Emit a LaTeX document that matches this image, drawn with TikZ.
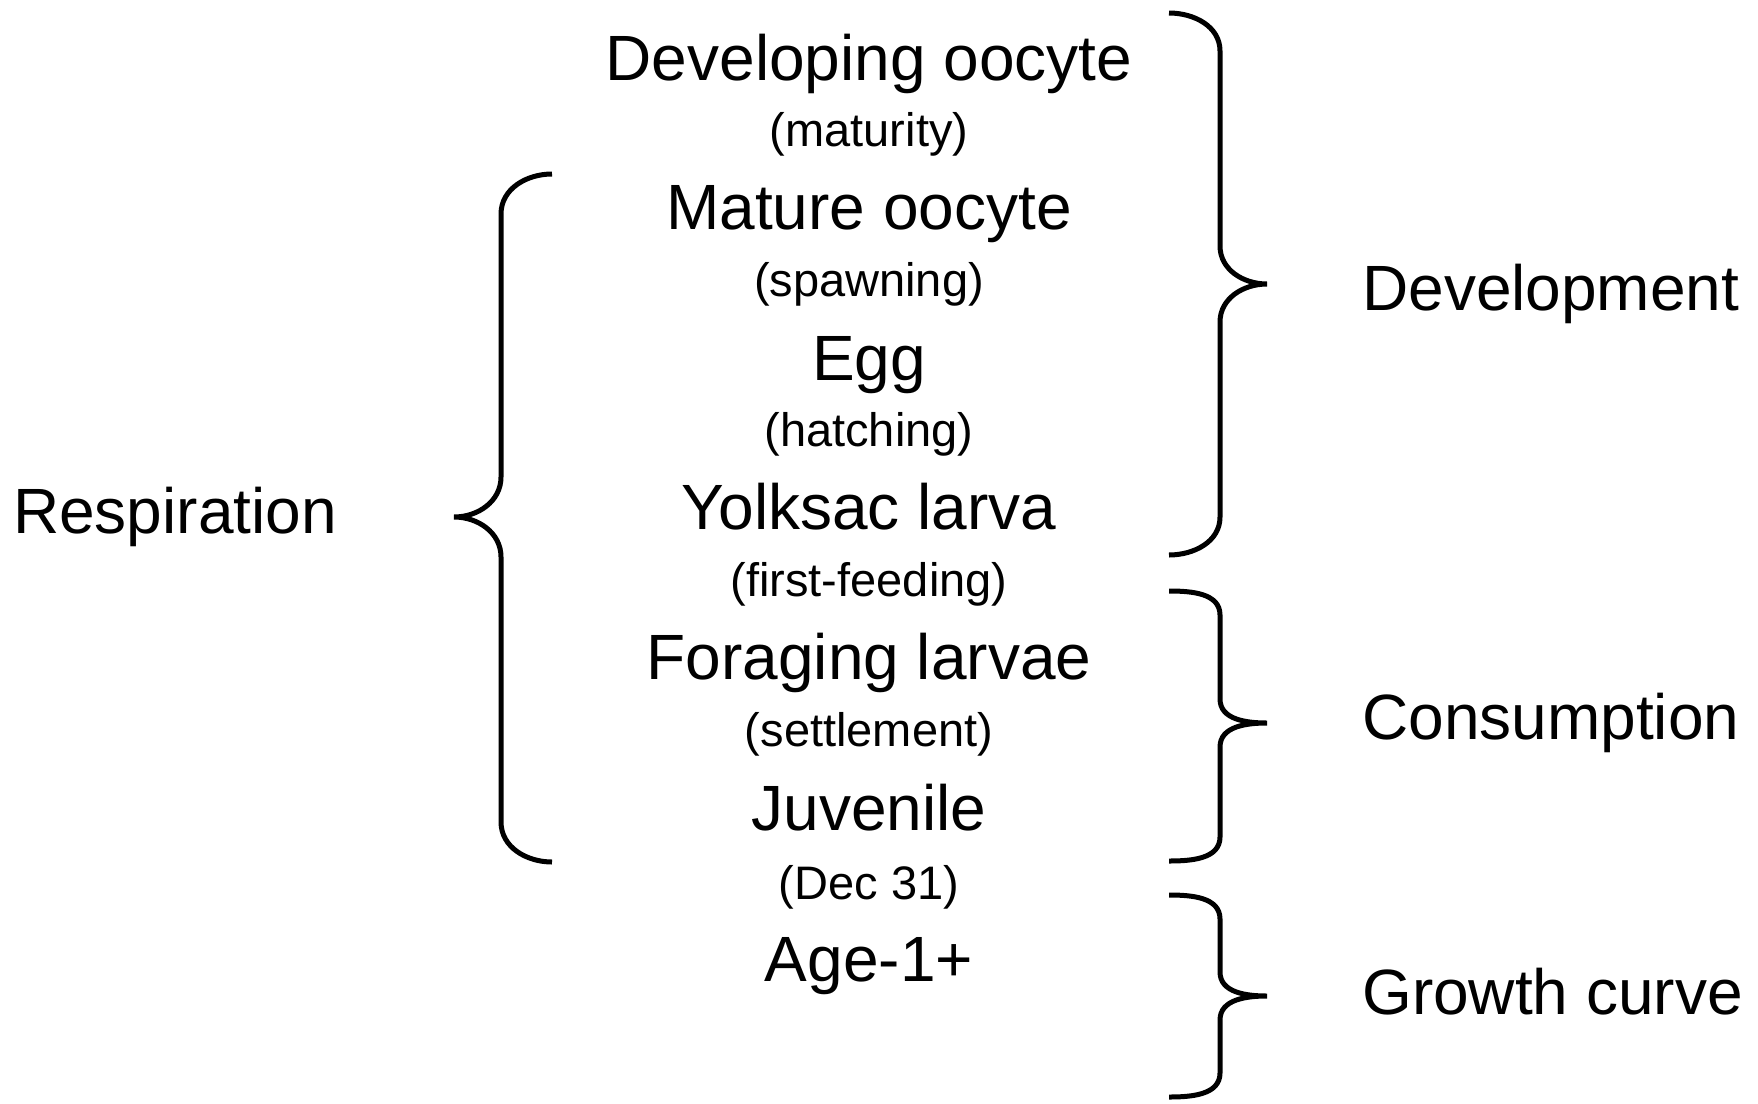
\documentclass[tikz,border=0pt]{standalone}
\usepackage{fontspec}
\setmainfont{Liberation Sans}
\newcommand\BraceRight[7]{% xend, xline, xtip, ytop, ymid, ybot, curve
  \draw[bracestyle] (#1,#4) to[out=0,in=90] (#2,#4+#7) -- (#2,#5-#7)
    to[out=-90,in=180] (#3,#5) to[out=180,in=90] (#2,#5+#7) -- (#2,#6-#7)
    to[out=-90,in=0] (#1,#6);}
\newcommand\BraceLeft[7]{%
  \draw[bracestyle] (#1,#4) to[out=180,in=90] (#2,#4+#7) -- (#2,#5-#7)
    to[out=-90,in=0] (#3,#5) to[out=0,in=90] (#2,#5+#7) -- (#2,#6-#7)
    to[out=-90,in=180] (#1,#6);}
\begin{document}
\begin{tikzpicture}[x=1pt,y=-1pt,
  bracestyle/.style={line width=5pt},
  big/.style={anchor=base,inner sep=0pt,font=\fontsize{64}{70}\selectfont},
  small/.style={anchor=base,inner sep=0pt,font=\fontsize{47}{52}\selectfont},
  side/.style={anchor=base west,inner sep=0pt,font=\fontsize{64}{70}\selectfont}]
\useasboundingbox (0,0) rectangle (1758,1103);
\node[big]   (dev)  at (869,80)  {Developing oocyte};
\node[small] (mat)  at (869,146) {(maturity)};
\node[big]   (moo)  at (869,229) {Mature oocyte};
\node[small] (spa)  at (869,296) {(spawning)};
\node[big]   (egg)  at (869,380) {Egg};
\node[small] (hat)  at (869,446) {(hatching)};
\node[big]   (yol)  at (869,529) {Yolksac larva};
\node[small] (ff)   at (869,596) {(first-feeding)};
\node[big]   (for)  at (869,679) {Foraging larvae};
\node[small] (set)  at (869,746) {(settlement)};
\node[big]   (juv)  at (869,830) {Juvenile};
\node[small] (dec)  at (869,899) {(Dec 31)};
\node[big]   (age)  at (869,981) {Age-1+};
\node[side]  (resp) at (13,533)   {Respiration};
\node[side]  (devl) at (1362,310) {Development};
\node[side]  (cons) at (1362,739) {Consumption};
\node[side]  (grow) at (1362,1014) {Growth curve};
\BraceLeft{552}{501}{454}{174}{517}{862}{40}
\BraceRight{1169}{1220}{1267}{13}{284}{555}{38}
\BraceRight{1169}{1220}{1267}{591}{723}{861}{24}
\BraceRight{1169}{1220}{1267}{895}{996}{1097}{24}
\end{tikzpicture}
\end{document}
